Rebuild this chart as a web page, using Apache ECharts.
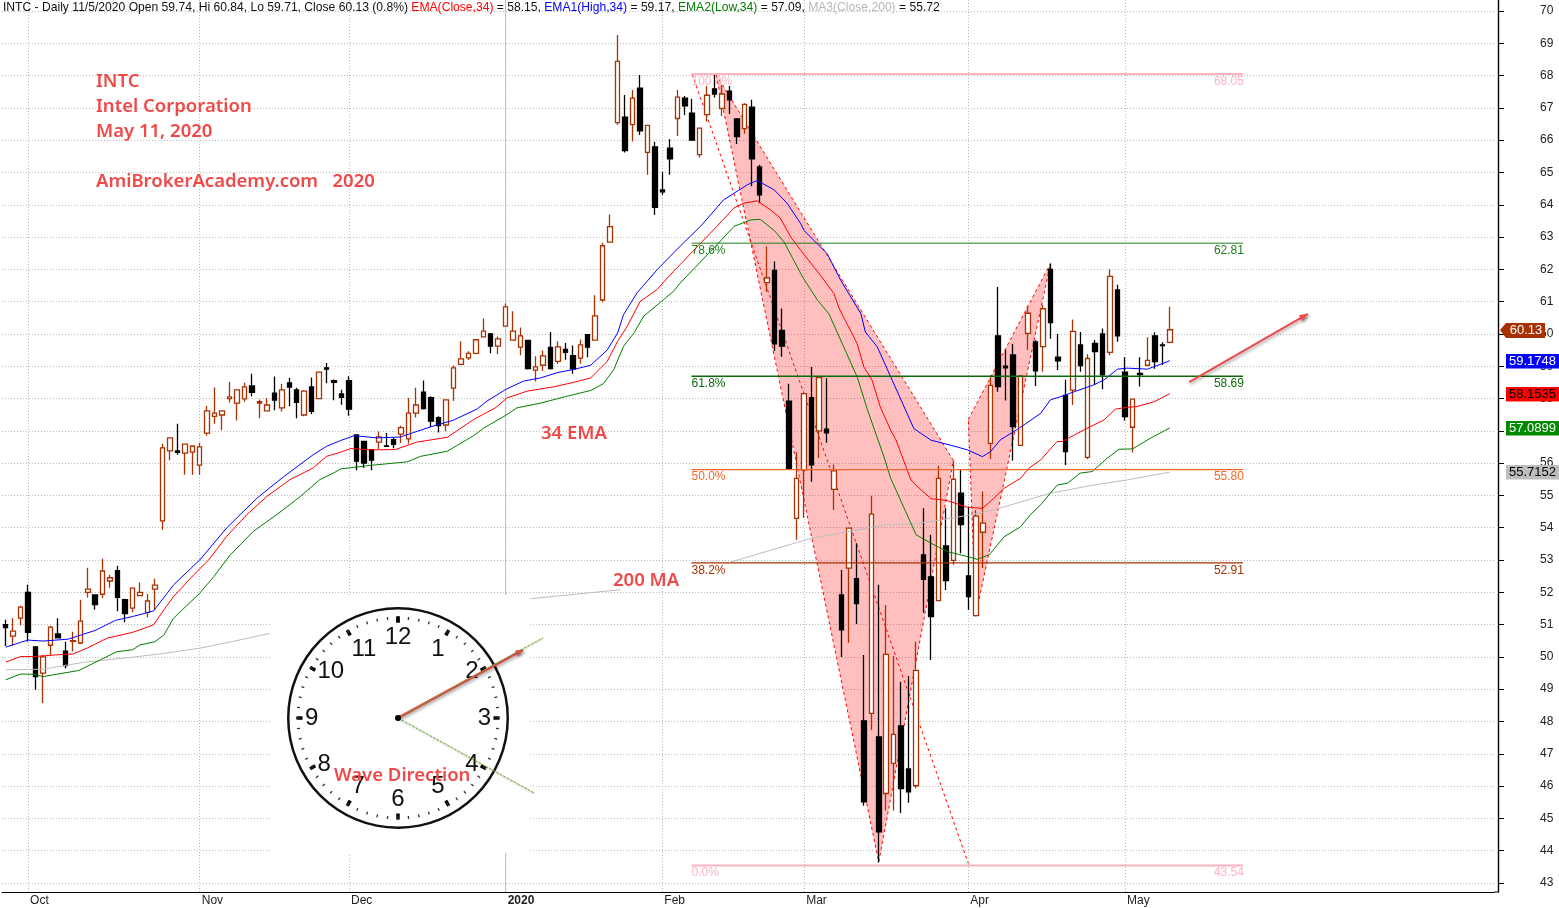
<!DOCTYPE html>
<html><head><meta charset="utf-8">
<style>html,body{margin:0;padding:0;background:#fff}#c{width:1559px;height:908px}</style>
<script src="https://cdn.jsdelivr.net/npm/echarts@6/dist/echarts.min.js"></script>
</head><body><div id="c"></div>
<script>
const tradingDays = ['2019-09-26','2019-09-27','2019-09-30',
'2019-10-01','2019-10-02','2019-10-03','2019-10-04','2019-10-07','2019-10-08','2019-10-09','2019-10-10','2019-10-11','2019-10-14','2019-10-15','2019-10-16','2019-10-17','2019-10-18','2019-10-21','2019-10-22','2019-10-23','2019-10-24','2019-10-25','2019-10-28','2019-10-29','2019-10-30','2019-10-31',
'2019-11-01','2019-11-04','2019-11-05','2019-11-06','2019-11-07','2019-11-08','2019-11-11','2019-11-12','2019-11-13','2019-11-14','2019-11-15','2019-11-18','2019-11-19','2019-11-20','2019-11-21','2019-11-22','2019-11-25','2019-11-26','2019-11-27','2019-11-29',
'2019-12-02','2019-12-03','2019-12-04','2019-12-05','2019-12-06','2019-12-09','2019-12-10','2019-12-11','2019-12-12','2019-12-13','2019-12-16','2019-12-17','2019-12-18','2019-12-19','2019-12-20','2019-12-23','2019-12-24','2019-12-26','2019-12-27','2019-12-30','2019-12-31',
'2020-01-02','2020-01-03','2020-01-06','2020-01-07','2020-01-08','2020-01-09','2020-01-10','2020-01-13','2020-01-14','2020-01-15','2020-01-16','2020-01-17','2020-01-21','2020-01-22','2020-01-23','2020-01-24','2020-01-27','2020-01-28','2020-01-29','2020-01-30','2020-01-31',
'2020-02-03','2020-02-04','2020-02-05','2020-02-06','2020-02-07','2020-02-10','2020-02-11','2020-02-12','2020-02-13','2020-02-14','2020-02-18','2020-02-19','2020-02-20','2020-02-21','2020-02-24','2020-02-25','2020-02-26','2020-02-27','2020-02-28',
'2020-03-02','2020-03-03','2020-03-04','2020-03-05','2020-03-06','2020-03-09','2020-03-10','2020-03-11','2020-03-12','2020-03-13','2020-03-16','2020-03-17','2020-03-18','2020-03-19','2020-03-20','2020-03-23','2020-03-24','2020-03-25','2020-03-26','2020-03-27','2020-03-30','2020-03-31',
'2020-04-01','2020-04-02','2020-04-03','2020-04-06','2020-04-07','2020-04-08','2020-04-09','2020-04-13','2020-04-14','2020-04-15','2020-04-16','2020-04-17','2020-04-20','2020-04-21','2020-04-22','2020-04-23','2020-04-24','2020-04-27','2020-04-28','2020-04-29','2020-04-30',
'2020-05-01','2020-05-04','2020-05-05','2020-05-06','2020-05-07','2020-05-08','2020-05-11'];
const monthLabels = {'2019-10-01':'Oct','2019-11-01':'Nov','2019-12-02':'Dec','2020-01-02':'2020','2020-02-03':'Feb','2020-03-02':'Mar','2020-04-01':'Apr','2020-05-01':'May'};
const yTicks = [43,44,45,46,47,48,49,50,51,52,53,54,55,56,57,58,59,60,61,62,63,64,65,66,67,68,69,70];

const opens = [51.0,50.64,51.2,52.0,50.31,49.5,50.36,50.71,50.18,50.48,
50.43,52.0,51.92,51.94,52.35,52.67,51.77,51.51,51.9,51.38,
52.1,54.21,56.38,56.38,56.31,56.34,55.94,56.93,57.45,57.49,
58.0,57.86,57.99,58.39,57.86,57.62,58.17,57.71,58.48,58.27,
57.49,58.36,58.0,58.95,58.55,58.14,58.55,56.87,56.67,56.42,
56.65,56.53,56.73,56.9,56.75,57.55,58.2,58.03,57.41,57.18,
58.32,59.06,59.26,59.4,59.91,60.0,59.62,60.24,59.81,59.59,
59.8,58.88,59.03,59.58,59.15,59.52,59.33,59.25,59.98,59.81,
61.05,62.84,66.54,66.71,66.48,67.61,65.62,65.79,64.46,65.75,
66.67,67.3,66.84,65.55,66.79,67.59,66.98,67.52,66.66,66.36,
67.02,65.17,61.59,61.97,60.11,57.92,54.29,55.78,58.03,57.0,
57.05,55.19,51.92,52.75,52.42,48.02,48.25,47.52,45.77,46.7,
47.86,46.53,46.01,53.16,52.48,51.74,53.44,52.99,55.07,52.51,
51.28,53.86,56.61,59.94,59.0,59.35,56.55,60.02,59.75,59.61,
62.0,59.28,58.1,58.26,59.66,56.18,59.71,60.0,59.43,61.36,
58.82,57.11,58.78,59.03,59.94,59.66,59.74];
const closes = [50.91,50.80,51.54,50.76,49.39,50.0,50.92,50.59,49.73,50.5,
51.11,52.1,51.62,52.66,52.45,51.84,51.34,52.13,52.0,51.73,
52.22,56.47,56.78,56.33,56.59,56.53,56.5,57.62,57.55,57.62,
58.05,58.27,58.36,58.19,57.9,57.8,57.95,58.27,58.35,57.88,
58.23,57.6,58.82,58.91,58.5,58.04,57.67,56.06,56.0,56.09,
56.81,56.52,56.58,57.1,57.55,57.8,57.69,57.3,57.16,57.96,
58.95,59.23,59.4,59.82,60.09,59.62,59.85,60.84,60.09,59.94,
58.93,58.98,59.32,58.93,59.6,59.43,58.92,59.66,59.59,60.56,
62.73,63.32,68.44,65.68,67.3,66.29,66.46,63.92,64.4,65.42,
67.33,67.06,66.0,66.37,67.39,67.43,67.43,67.25,66.11,67.11,
65.42,64.31,61.74,59.69,59.62,55.81,55.53,58.15,55.95,58.65,
56.94,55.76,50.84,53.99,51.65,45.51,54.42,44.58,50.08,47.6,
45.92,45.82,49.58,52.4,51.25,55.53,52.36,55.5,54.1,51.87,
54.36,54.14,58.41,58.37,58.95,57.13,58.7,60.64,58.86,60.78,
60.35,59.17,56.36,60.08,59.02,59.24,59.45,58.73,61.78,59.94,
57.44,57.98,58.74,59.18,59.14,59.64,60.13];
const lows = [50.34,50.35,50.97,50.48,48.98,48.57,50.06,50.58,49.64,50.17,
50.4,51.84,51.46,51.82,52.14,51.41,51.07,51.38,51.9,51.23,
51.46,53.94,56.09,56.26,55.64,55.64,55.64,56.85,57.22,57.02,
57.88,57.32,57.9,58.07,57.39,57.6,57.64,57.6,57.76,57.39,
57.45,57.51,58.0,58.47,57.95,57.81,57.47,55.78,55.85,55.78,
56.44,56.5,56.46,56.62,56.6,57.41,57.66,57.12,56.95,56.99,
57.92,59.06,59.19,59.37,59.91,59.4,59.37,60.24,59.81,59.34,
58.9,58.53,58.85,58.9,59.08,59.2,58.77,59.08,59.28,59.81,
60.98,62.84,66.48,65.62,65.96,66.16,64.93,63.69,64.31,64.93,
66.13,66.78,66.0,65.46,66.58,67.32,66.75,66.81,65.88,66.2,
64.57,64.05,61.3,59.47,59.29,55.81,53.63,54.3,55.42,56.16,
56.63,54.55,50.0,50.44,51.02,45.39,47.74,43.63,45.24,45.24,
45.17,45.48,45.93,51.37,49.9,51.72,52.07,52.85,53.21,51.45,
51.25,52.75,56.13,58.21,57.94,56.08,56.55,59.5,58.39,58.83,
59.85,58.88,55.94,57.8,58.83,56.12,58.42,58.29,59.34,59.76,
57.32,56.33,58.37,59.0,58.92,59.04,59.71];
const highs = [51.15,51.2,51.58,52.23,50.34,50.06,50.96,51.2,50.47,50.78,
51.77,52.76,51.92,53.04,52.54,52.82,51.8,52.13,52.3,51.95,
52.42,56.6,56.78,57.22,56.59,56.55,56.62,57.78,58.34,57.62,
58.52,58.27,58.49,58.77,57.97,58.02,58.68,58.45,58.64,58.33,
58.26,58.65,58.82,59.1,58.59,58.27,58.69,56.88,56.67,56.42,
56.98,56.93,56.81,57.16,58.02,58.33,58.56,58.07,57.45,57.97,
59.02,59.77,59.46,59.82,60.48,60.03,59.92,60.94,60.7,60.2,
59.8,59.31,59.49,60.06,59.77,59.72,59.64,59.83,59.98,61.2,
62.82,63.7,69.26,67.4,67.55,68.02,66.46,65.95,65.02,66.03,
67.55,67.37,67.28,66.37,67.68,68.02,67.7,67.68,66.66,67.14,
67.25,65.24,62.71,62.24,60.79,58.46,56.34,58.17,58.98,58.67,
58.63,55.96,52.69,54.0,53.52,50.06,54.99,52.23,51.61,50.03,
49.23,49.41,50.47,54.6,53.78,55.92,54.6,56.08,55.79,54.66,
54.55,55.12,58.71,61.45,59.5,59.69,58.7,60.87,59.81,60.9,
62.17,60.0,58.58,60.45,60.06,59.37,59.81,60.17,62.0,61.52,
59.28,57.98,59.28,59.9,60.05,59.74,60.84];

// points: [bar position, price]
const emaHigh = [[0,50.3],[2,50.45],[3,50.52],[5,50.49],[8.4,50.55],[10.5,50.71],[12,50.82],[14.7,51.13],[17,51.25],[19.8,51.42],[22.5,52.23],[26,53.0],[29.6,53.99],[31.4,54.4],[33.7,54.92],[37.2,55.57],[41.2,56.26],[43,56.52],[44.9,56.7],[46.7,56.85],[49.8,56.78],[52.9,56.81],[54.7,56.95],[56.9,57.12],[60,57.33],[63.2,57.68],[64.5,57.92],[67,58.28],[69.4,58.54],[71.7,58.64],[73.9,58.8],[76.1,58.9],[78.4,59.03],[80.6,59.5],[82,60.03],[82.8,60.6],[84.6,61.27],[87.3,61.99],[89.5,62.51],[90.4,62.72],[93.1,63.33],[96.2,64.15],[99.4,64.62],[100.7,64.75],[103,64.46],[104.7,64.05],[106.5,63.43],[107,63.2],[110.1,62.48],[111.9,61.66],[114.6,60.63],[115.2,60.06],[116.8,59.6],[118.6,58.67],[121.7,57.07],[124,56.71],[126.7,56.55],[128.9,56.41],[130.9,56.2],[132,56.36],[133.3,56.72],[135.6,57.05],[138.7,57.54],[140,57.96],[141.4,58.06],[143.2,58.21],[145.8,58.42],[147.2,58.58],[149,58.91],[150.3,58.94],[153,58.91],[156,59.17]];
const emaClose = [[0,49.84],[2,50.01],[3.75,50.01],[6.6,50.06],[9,50.09],[10.9,50.27],[13.6,50.58],[17,50.76],[19.8,50.99],[21.2,51.46],[22.5,51.87],[25.2,52.54],[27.2,53.0],[29.6,53.73],[32.3,54.4],[35,54.97],[38.1,55.49],[41.2,55.85],[43,56.21],[44.9,56.34],[46.2,56.45],[49.3,56.41],[52.2,56.42],[55.1,56.65],[59.2,56.8],[62.7,57.35],[65.6,57.71],[67.2,58.02],[69.9,58.23],[73.4,58.36],[76.1,58.5],[78.4,58.64],[80.6,59.15],[82,59.77],[83.3,60.24],[85,61.0],[87.3,61.38],[89.5,61.94],[90.4,62.15],[92.7,62.71],[95.3,63.33],[97.6,63.9],[98.9,64.05],[100.7,64.12],[102.5,63.84],[103.8,63.59],[105.2,63.0],[106.5,62.6],[109.2,61.81],[111,61.25],[111.7,60.78],[114.1,59.7],[115,58.98],[116.1,58.57],[117.2,57.74],[118.6,57.02],[119.3,56.72],[121.3,55.48],[122.2,55.27],[124,54.9],[126.2,54.84],[128.9,54.63],[130.9,54.6],[132.4,54.91],[133.8,55.22],[136,55.53],[137.1,55.84],[138.7,56.1],[140.9,56.67],[141.6,56.67],[143.2,56.87],[145.8,57.18],[147.2,57.34],[148.7,57.67],[150.3,57.73],[151.6,57.75],[153.9,57.9],[156,58.15]];
const emaLow = [[0,49.29],[2,49.47],[3.75,49.46],[5,49.39],[9.8,49.58],[12.7,49.91],[14.9,50.16],[17,50.22],[18,50.37],[20,50.47],[21.2,50.68],[22.5,51.2],[26,51.97],[27.9,52.49],[30.1,53.16],[33.2,53.89],[36.3,54.4],[39.5,54.97],[42.1,55.49],[43.9,55.69],[44.9,55.82],[48.9,55.93],[53.8,56.04],[55.6,56.21],[59.2,56.37],[62.7,56.85],[64.1,57.09],[66.8,57.45],[68.5,57.71],[71.7,57.86],[75.2,58.07],[78.4,58.25],[80.1,58.46],[81.5,58.9],[82.8,59.62],[84.2,60.03],[85.5,60.55],[89.5,61.32],[90.4,61.58],[95.3,62.76],[97.6,63.33],[99.8,63.53],[101.1,63.55],[103,63.2],[104.3,62.85],[106.8,61.76],[108.8,61.04],[110.3,60.63],[112.3,59.6],[114.1,58.67],[115.5,57.64],[117.7,56.19],[118.6,55.53],[120.6,54.5],[122,53.78],[124,53.52],[126.2,53.26],[129,53.1],[130.2,53.02],[131.8,53.16],[133.8,53.72],[136,54.03],[137.3,54.4],[138.7,54.71],[140.9,55.32],[142.3,55.38],[144,55.69],[145.6,55.74],[147.6,56.15],[149.2,56.43],[151,56.44],[153.4,56.77],[156,57.09]];
const ma200 = [[0,49.6],[5,49.62],[10.4,49.83],[17,49.99],[21.6,50.12],[26,50.27],[30.5,50.48],[35.4,50.73],[36,null],[70.3,51.8],[82.4,52.08],[83,null],[97.2,52.94],[107.9,53.67],[117.7,54.08],[121.8,54.12],[125.3,54.24],[129.3,54.4],[132.4,54.55],[140,55.07],[145.8,55.32],[150.3,55.48],[156,55.72]];

const fibPercents = ['100.0%','78.6%','61.8%','50.0%','38.2%','0.0%'];
const fibPrices = [68.05,62.81,58.69,55.80,52.91,43.54];
const fibRange = [91.9,165.8];
const patternA = [[95.2,68.03],[127,56.08],[117,43.65]];
const patternB = [[129,57.35],[140,62.18],[130,51.3]];
const patternRetrace = [[92,68.04],[129,43.6]];
const waveArrow = [[158.6,58.51],[174.5,60.62]];
const clockArrow = [[52.57,48.11],[69.3,50.22]];
const clockGuides = [[[52.57,48.11],[72,50.59]],[[52.57,48.11],[70.8,45.79]]];
const clockMask = [[35.4,51.92],[70.3,43.93]];
const yearStart = 67;
const priceTags = [[60.13,'60.13'],[59.1748,'59.1748'],[58.1535,'58.1535'],[57.0899,'57.0899'],[55.7152,'55.7152']];
const clockFace = {min:0,max:12};

const fibStyle = ['#ffb3c1','#1d7f1d','#0b6b0b','#f2692e','#a83200','#ffb3c1'];
const tagStyle = [['#a83200','#fff'],['#0000ff','#fff'],['#ff0000','#000'],['#008a00','#fff'],['#bdbdbd','#000']];
const RED = '#ef4a4a', FONT = 'Liberation Sans', NOTE = '"Noto Sans"';

const categories = tradingDays.concat(Array.from({length:200-tradingDays.length},(_,i)=>'+'+i));
const candles = opens.map((o,i)=>[o,closes[i],lows[i],highs[i]]);
const isMonth = (i,v)=>monthLabels[v]!==undefined;
const onOverlay = {xAxisIndex:1,yAxisIndex:0};
const emaLine = (name,data,color)=>({name,type:'line',...onOverlay,data,symbol:'none',z:5,clip:true,
  lineStyle:{color,width:1},silent:true,animation:false});

function polyItem(points, api, opts){
  return {type:'polygon',shape:{points:points.map(p=>api.coord(p))},style:opts};
}
const option = {
  animation:false, backgroundColor:'#fff',
  grid:{left:1.97,top:0,bottom:16,right:1559-1494.4,containLabel:false},
  xAxis:[{type:'category',data:categories,boundaryGap:true,
      axisLine:{lineStyle:{color:'#000',width:1}},
      axisTick:{alignWithLabel:true,interval:isMonth,length:4,lineStyle:{color:'#000'}},
      splitLine:{show:true,alignWithLabel:true,interval:isMonth,lineStyle:{color:'#b8b8b8',type:[1,2],width:1}},
      axisLabel:{interval:isMonth,margin:3,align:'left',padding:[0,0,0,2],color:'#222',fontFamily:FONT,fontSize:12,
        formatter:v=>{const t=monthLabels[v];return t==='2020'?'{b|2020}':(t||'');},
        rich:{b:{fontWeight:'bold',fontFamily:FONT,fontSize:12,color:'#222'}}}},
    {type:'value',min:-0.5,max:199.5,show:false,position:'bottom'}],
  yAxis:[{type:'value',position:'right',min:42.72,max:70.34,offset:3.6,scale:true,
    axisLine:{show:true,onZero:false,lineStyle:{color:'#000',width:1.4}},
    axisTick:{show:true,customValues:yTicks,length:6,lineStyle:{color:'#000'}},
    axisLabel:{customValues:yTicks,margin:42,align:'left',color:'#222',fontFamily:FONT,fontSize:12,padding:[2,0,0,0]},
    splitLine:{show:true,lineStyle:{color:'#b8b8b8',type:[1,2],width:1}}}],
  series:[
    {name:'year',type:'custom',...onOverlay,z:1,silent:true,clip:false,data:[[yearStart,50]],
      renderItem:(p,api)=>{const a=api.coord([yearStart,70.34]),b=api.coord([yearStart,42.72]);const r=api.coord([199.5,42.72]);
        return {type:'group',children:[
          {type:'line',shape:{x1:a[0],y1:a[1],x2:b[0],y2:b[1]},style:{stroke:'#bdbdbd',lineWidth:1}},
          {type:'line',shape:{x1:r[0],y1:r[1],x2:r[0]+4,y2:r[1]},style:{stroke:'#000',lineWidth:1}}]};}},
    {name:'mask',type:'custom',...onOverlay,z:1,silent:true,clip:false,data:[[0,50]],
      renderItem:(p,api)=>{const a=api.coord(clockMask[0]),b=api.coord(clockMask[1]);
        return {type:'rect',shape:{x:a[0],y:a[1],width:b[0]-a[0],height:b[1]-a[1]},style:{fill:'#fff'}};}},
    {name:'pattern',type:'custom',...onOverlay,z:2,silent:true,clip:false,data:[[0,50]],
      renderItem:(p,api)=>({type:'group',children:[
        polyItem(patternA,api,{fill:'rgba(255,0,0,0.25)',stroke:'#ff0000',lineWidth:1,lineDash:[3,3]}),
        polyItem(patternB,api,{fill:'rgba(255,0,0,0.25)',stroke:'#ff0000',lineWidth:1,lineDash:[3,3]}),
        {type:'polyline',shape:{points:patternRetrace.map(q=>api.coord(q))},style:{fill:null,stroke:'#ff0000',lineWidth:1,lineDash:[3,3]}}
      ]})},
    {name:'INTC',type:'candlestick',data:candles,barWidth:5,z:3,silent:true,clip:false,
      itemStyle:{color:'#fff',color0:'#000',borderColor:'#a83200',borderColor0:'#000',borderWidth:1.3}},
    emaLine('MA3(Close,200)',ma200,'#bdbdbd'),
    emaLine('EMA2(Low,34)',emaLow,'#008000'),
    emaLine('EMA(Close,34)',emaClose,'#ff0000'),
    emaLine('EMA1(High,34)',emaHigh,'#0000ff'),
    {name:'fib',type:'custom',...onOverlay,z:6,silent:true,clip:false,data:fibPrices.map((v,i)=>[i,v]),
      renderItem:(p,api)=>{const i=p.dataIndex,v=fibPrices[i],a=api.coord([fibRange[0],v]),b=api.coord([fibRange[1],v]),c=fibStyle[i];
        const w=(i===0||i===5)?2:(i===1?1:1.4);
        return {type:'group',children:[
          {type:'line',shape:{x1:a[0],y1:a[1],x2:b[0],y2:b[1]},style:{stroke:c,lineWidth:w}},
          {type:'text',x:a[0],y:a[1]+7.5,style:{text:fibPercents[i],fill:c,font:'12px '+FONT,align:'left',verticalAlign:'middle'}},
          {type:'text',x:b[0]+1,y:a[1]+7.5,style:{text:v.toFixed(2),fill:c,font:'12px '+FONT,align:'right',verticalAlign:'middle'}}
        ]};}},
    {name:'clock',type:'gauge',center:[398,718],radius:111,startAngle:90,endAngle:-270,min:clockFace.min,max:clockFace.max,splitNumber:12,z:7,silent:true,
      axisLine:{lineStyle:{width:2.5,color:[[1,'#111']]}},
      splitLine:{distance:7,length:6,lineStyle:{color:'#000',width:3.5}},
      axisTick:{distance:7,length:3,splitNumber:5,lineStyle:{color:'#333',width:1.3}},
      axisLabel:{distance:5,color:'#111',fontFamily:FONT,fontSize:24,formatter:v=>v===0?'':String(v)},
      pointer:{show:false},anchor:{show:false},title:{show:false},detail:{show:false},data:[{value:0}]},
    {name:'arrows',type:'custom',...onOverlay,z:8,silent:true,clip:false,data:[[0,50]],
      renderItem:(p,api)=>{
        const arrow=(seg,width,head)=>{const a=api.coord(seg[0]),b=api.coord(seg[1]);const ang=Math.atan2(b[1]-a[1],b[0]-a[0]);
          const sh={shadowBlur:3,shadowColor:'rgba(0,0,0,0.35)',shadowOffsetX:1,shadowOffsetY:2};
          return [{type:'line',shape:{x1:a[0],y1:a[1],x2:b[0],y2:b[1]},style:{stroke:RED,lineWidth:width,...sh}},
            {type:'polygon',shape:{points:[b,[b[0]-head*Math.cos(ang-0.4),b[1]-head*Math.sin(ang-0.4)],[b[0]-head*Math.cos(ang+0.4),b[1]-head*Math.sin(ang+0.4)]]},style:{fill:RED,...sh}}];};
        const guides=clockGuides.map(s=>{const a=api.coord(s[0]),b=api.coord(s[1]);
          return {type:'line',shape:{x1:a[0],y1:a[1],x2:b[0],y2:b[1]},style:{stroke:'#6aa82a',lineWidth:1,lineDash:[3,1],shadowBlur:2,shadowColor:'rgba(0,0,0,0.3)',shadowOffsetY:1}};});
        const c=api.coord(clockGuides[0][0]);
        return {type:'group',children:[...arrow(waveArrow,2,9),...arrow(clockArrow,2.5,8),...guides,
          {type:'circle',shape:{cx:c[0],cy:c[1],r:3},style:{fill:'#000'}}]};}},
    {name:'tags',type:'custom',...onOverlay,z:9,silent:true,clip:false,data:priceTags.map(t=>[0,t[0]]),
      renderItem:(p,api)=>{const i=p.dataIndex,y=Math.round(api.coord([0,priceTags[i][0]])[1]),[bg,fg]=tagStyle[i];
        const kids=[];
        if(i===0){kids.push({type:'polygon',shape:{points:[[1500,y],[1506,y-7],[1545,y-7],[1545,y+8],[1506,y+8]]},style:{fill:bg}});
          kids.push({type:'text',x:1526,y:y+0.5,style:{text:priceTags[i][1],fill:fg,font:'13px '+FONT,align:'center',verticalAlign:'middle'}});}
        else{kids.push({type:'rect',shape:{x:1506,y:y-7,width:53,height:14.5},style:{fill:bg}});
          kids.push({type:'text',x:1532.5,y:y+0.5,style:{text:priceTags[i][1],fill:fg,font:'13px '+FONT,align:'center',verticalAlign:'middle'}});}
        return {type:'group',children:kids};}}
  ],
  graphic:{elements:[
    {type:'text',left:3,top:2,z:50,style:{font:'12.12px '+FONT,fill:'#111',
      text:'INTC - Daily 11/5/2020 Open 59.74, Hi 60.84, Lo 59.71, Close 60.13 (0.8%) {r|EMA(Close,34)} = 58.15, {b|EMA1(High,34)} = 59.17, {g|EMA2(Low,34)} = 57.09, {y|MA3(Close,200)} = 55.72',
      rich:{r:{fill:'#f00',font:'12.12px '+FONT},b:{fill:'#00f',font:'12.12px '+FONT},g:{fill:'#008000',font:'12.12px '+FONT},y:{fill:'#b8b8b8',font:'12.12px '+FONT}}}},
    ...[['INTC',96,82],['Intel Corporation',96,107],['May 11, 2020',96,132],['AmiBrokerAcademy.com   2020',96,182],['34 EMA',541,434],['200 MA',613,581],['Wave Direction',334,776]].map(t=>(
      {type:'text',x:t[1],y:t[2],z:60,style:{text:t[0],fill:RED,font:'600 18.5px '+NOTE,align:'left',verticalAlign:'middle'}}))
  ]}
};
const chart = echarts.init(document.getElementById('c'),null,{renderer:'canvas',width:1559,height:908});
chart.setOption(option);
</script></body></html>
